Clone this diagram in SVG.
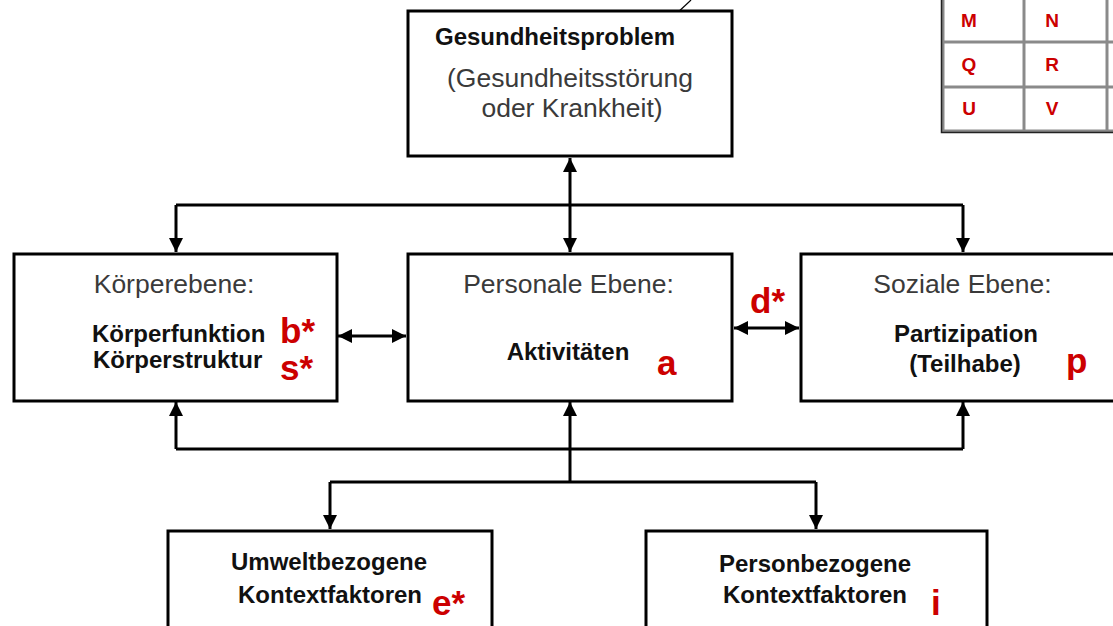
<svg xmlns="http://www.w3.org/2000/svg" width="1113" height="626" viewBox="0 0 1113 626">
<style>
.box{fill:#fff;stroke:#000;stroke-width:3}
.con{fill:none;stroke:#000;stroke-width:3}
.reg{font-family:"Liberation Sans",Arial,sans-serif;font-size:26.5px;fill:#3a3a3a}
.bld{font-family:"Liberation Sans",Arial,sans-serif;font-size:24px;font-weight:bold;fill:#111}
.red{font-family:"Liberation Sans",Arial,sans-serif;font-size:35px;font-weight:bold;fill:#cc0000}
.tl{font-family:"Liberation Sans",Arial,sans-serif;font-size:19px;font-weight:bold;fill:#cc0000;text-anchor:middle}
.grid{stroke:#8a8a8a;stroke-width:3;fill:none}
.mid{text-anchor:middle}
</style>
<defs>
<marker id="ah" markerUnits="userSpaceOnUse" markerWidth="14" markerHeight="14" viewBox="0 0 14 14" refX="14" refY="7" orient="auto-start-reverse">
<path d="M0,0 L14,7 L0,14 z" fill="#000"/>
</marker>
</defs>
<rect width="1113" height="626" fill="#fff"/>

<g id="table">
<line class="grid" x1="942" y1="42" x2="1113" y2="42"/>
<line class="grid" x1="942" y1="87" x2="1113" y2="87"/>
<line class="grid" x1="942" y1="131" x2="1113" y2="131"/>
<line class="grid" x1="1024" y1="0" x2="1024" y2="131"/>
<line class="grid" x1="1107" y1="0" x2="1107" y2="131"/>
<line class="grid" x1="943" y1="0" x2="943" y2="131"/>
<polyline points="941.5,0 941.5,132.5 1113,132.5" fill="none" stroke="#222" stroke-width="1.5"/>
<text class="tl" x="969" y="27">M</text>
<text class="tl" x="1052" y="27">N</text>
<text class="tl" x="969" y="71">Q</text>
<text class="tl" x="1052" y="71">R</text>
<text class="tl" x="969" y="115">U</text>
<text class="tl" x="1052" y="115">V</text>
</g>

<g id="connectors">
<line class="con" x1="570" y1="158" x2="570" y2="252" marker-start="url(#ah)" marker-end="url(#ah)"/>
<line class="con" x1="176" y1="205" x2="963" y2="205"/>
<line class="con" x1="176" y1="205" x2="176" y2="252" marker-end="url(#ah)"/>
<line class="con" x1="963" y1="205" x2="963" y2="252" marker-end="url(#ah)"/>
<line class="con" x1="338" y1="336" x2="406" y2="336" marker-start="url(#ah)" marker-end="url(#ah)"/>
<line class="con" x1="734" y1="328" x2="799" y2="328" marker-start="url(#ah)" marker-end="url(#ah)"/>
<line class="con" x1="176" y1="449" x2="963" y2="449"/>
<line class="con" x1="176" y1="449" x2="176" y2="402" marker-end="url(#ah)"/>
<line class="con" x1="963" y1="449" x2="963" y2="402" marker-end="url(#ah)"/>
<line class="con" x1="570" y1="482" x2="570" y2="402" marker-end="url(#ah)"/>
<line class="con" x1="330" y1="482" x2="816" y2="482"/>
<line class="con" x1="330" y1="482" x2="330" y2="529" marker-end="url(#ah)"/>
<line class="con" x1="816" y1="482" x2="816" y2="529" marker-end="url(#ah)"/>
<line x1="691" y1="0" x2="658" y2="31" stroke="#000" stroke-width="1.2"/>
</g>

<g id="gesundheitsproblem">
<rect class="box" x="408" y="11" width="324" height="145"/>
<text class="bld" x="435" y="45">Gesundheitsproblem</text>
<text class="reg mid" x="570" y="87">(Gesundheitsstörung</text>
<text class="reg mid" x="572" y="117">oder Krankheit)</text>
</g>

<g id="koerperebene">
<rect class="box" x="14" y="254" width="323" height="147"/>
<text class="reg mid" x="174" y="293">Körperebene:</text>
<text class="bld" x="92" y="342">Körperfunktion</text>
<text class="bld" x="93" y="368">Körperstruktur</text>
<text class="red" x="280" y="343">b*</text>
<text class="red" x="280" y="380">s*</text>
</g>

<g id="personale">
<rect class="box" x="408" y="254" width="324" height="147"/>
<text class="reg mid" x="568.5" y="293">Personale Ebene:</text>
<text class="bld mid" x="568" y="360">Aktivitäten</text>
<text class="red" x="657" y="375">a</text>
</g>

<g id="d-label">
<text class="red" x="750" y="313">d*</text>
</g>

<g id="soziale">
<rect class="box" x="801" y="254" width="340" height="147"/>
<text class="reg mid" x="962.5" y="293">Soziale Ebene:</text>
<text class="bld mid" x="966" y="342">Partizipation</text>
<text class="bld mid" x="965" y="372">(Teilhabe)</text>
<text class="red" x="1066" y="373">p</text>
</g>

<g id="umwelt">
<rect class="box" x="168" y="531" width="324" height="120"/>
<text class="bld mid" x="329" y="570">Umweltbezogene</text>
<text class="bld mid" x="330" y="603">Kontextfaktoren</text>
<text class="red" x="432" y="615">e*</text>
</g>

<g id="person">
<rect class="box" x="646" y="531" width="341" height="120"/>
<text class="bld mid" x="815" y="572">Personbezogene</text>
<text class="bld mid" x="815" y="603">Kontextfaktoren</text>
<text class="red" x="931" y="615">i</text>
</g>
</svg>
